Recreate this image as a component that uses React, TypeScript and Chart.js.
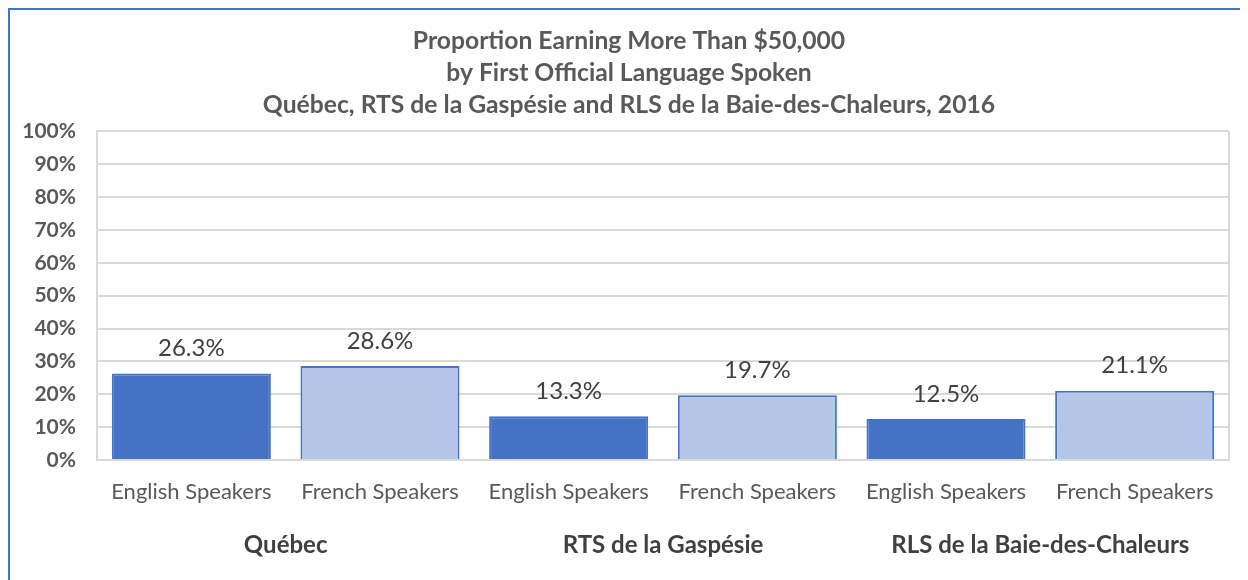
import React, { useEffect, useRef } from "react";
import { Chart, registerables } from "chart.js";

Chart.register(...registerables);

const categories = [
  "English Speakers",
  "French Speakers",
  "English Speakers",
  "French Speakers",
  "English Speakers",
  "French Speakers",
];
const groups = ["Québec", "RTS de la Gaspésie", "RLS de la Baie-des-Chaleurs"];
const values = [26.3, 28.6, 13.3, 19.7, 12.5, 21.1];
const barColors = ["#4472C4", "#B4C7E7", "#4472C4", "#B4C7E7", "#4472C4", "#B4C7E7"];
const titleLines = [
  "Proportion Earning More Than $50,000",
  "by First Official Language Spoken",
  "Québec, RTS de la Gaspésie and RLS de la Baie-des-Chaleurs, 2016",
];

const FONT = "Lato";

const valueLabels = {
  id: "valueLabels",
  afterDatasetsDraw(chart: any) {
    const ctx = chart.ctx;
    const meta = chart.getDatasetMeta(0);
    ctx.save();
    ctx.font = `24px ${FONT}`;
    ctx.fillStyle = "#404040";
    ctx.textAlign = "center";
    ctx.textBaseline = "middle";
    meta.data.forEach((bar: any, i: number) => {
      ctx.fillText(values[i].toFixed(1) + "%", bar.x, bar.y - 25);
    });
    ctx.restore();
  },
};

const plotFrame = {
  id: "plotFrame",
  beforeDatasetsDraw(chart: any) {
    const { ctx, chartArea } = chart;
    ctx.save();
    ctx.strokeStyle = "#D9D9D9";
    ctx.lineWidth = 2;
    ctx.beginPath();
    ctx.moveTo(chartArea.right, chartArea.top);
    ctx.lineTo(chartArea.right, chartArea.bottom);
    ctx.stroke();
    ctx.restore();
  },
};

export default function App() {
  const ref = useRef<HTMLCanvasElement | null>(null);

  useEffect(() => {
    if (!ref.current) return;
    const chart = new Chart(ref.current, {
      type: "bar",
      data: {
        labels: categories,
        datasets: [
          {
            data: values,
            backgroundColor: barColors,
            borderColor: "#4472C4",
            borderWidth: 2,
            categoryPercentage: 1,
            barPercentage: 0.843,
          },
        ],
      },
      plugins: [valueLabels, plotFrame],
      options: {
        animation: false,
        responsive: true,
        maintainAspectRatio: false,
        layout: { padding: { left: 0, right: 0, top: 0, bottom: 0 } },
        plugins: {
          legend: { display: false },
          tooltip: { enabled: false },
          title: {
            display: true,
            text: titleLines,
            color: "#595959",
            font: { family: FONT, size: 24.7, weight: "bold", lineHeight: 1.3 },
            padding: { top: 15, bottom: 10 },
          },
        },
        scales: {
          y: {
            min: 0,
            max: 100,
            ticks: {
              stepSize: 10,
              padding: 21,
              color: "#595959",
              font: { family: FONT, size: 21, weight: "bold" },
              callback: (v: any) => v + "%",
            },
            grid: { color: "#D9D9D9", lineWidth: 2, drawTicks: false },
            border: { display: true, color: "#D9D9D9", width: 2 },
            afterFit: (s: any) => {
              s.width = 87;
            },
          },
          yRight: {
            type: "linear",
            position: "right",
            ticks: { display: false },
            grid: { display: false, drawTicks: false },
            border: { display: false },
            afterFit: (s: any) => {
              s.width = 19;
            },
          },
          x: {
            weight: 0,
            ticks: {
              padding: 19,
              color: "#595959",
              maxRotation: 0,
              autoSkip: false,
              font: { family: FONT, size: 22 },
            },
            grid: { display: false, drawTicks: false },
            border: { display: true, color: "#D9D9D9", width: 2 },
            afterFit: (s: any) => {
              s.height = 60;
            },
          },
          x2: {
            type: "category",
            position: "bottom",
            weight: 1,
            labels: groups,
            offset: true,
            ticks: {
              padding: 11,
              color: "#404040",
              maxRotation: 0,
              autoSkip: false,
              font: { family: FONT, size: 24, weight: "bold" },
            },
            grid: { display: false, drawTicks: false },
            border: { display: false },
            afterFit: (s: any) => {
              s.height = 60;
            },
          },
        },
      },
    } as any);
    return () => chart.destroy();
  }, []);

  return (
    <div
      style={{
        width: 1240,
        height: 572,
        boxSizing: "border-box",
        borderTop: "2px solid #4472C4",
        borderLeft: "2px solid #4472C4",
        position: "relative",
        background: "#fff",
      }}
    >
      <div style={{ position: "absolute", left: 0, top: 0, width: 1238, height: 570 }}>
        <canvas ref={ref} />
      </div>
    </div>
  );
}
